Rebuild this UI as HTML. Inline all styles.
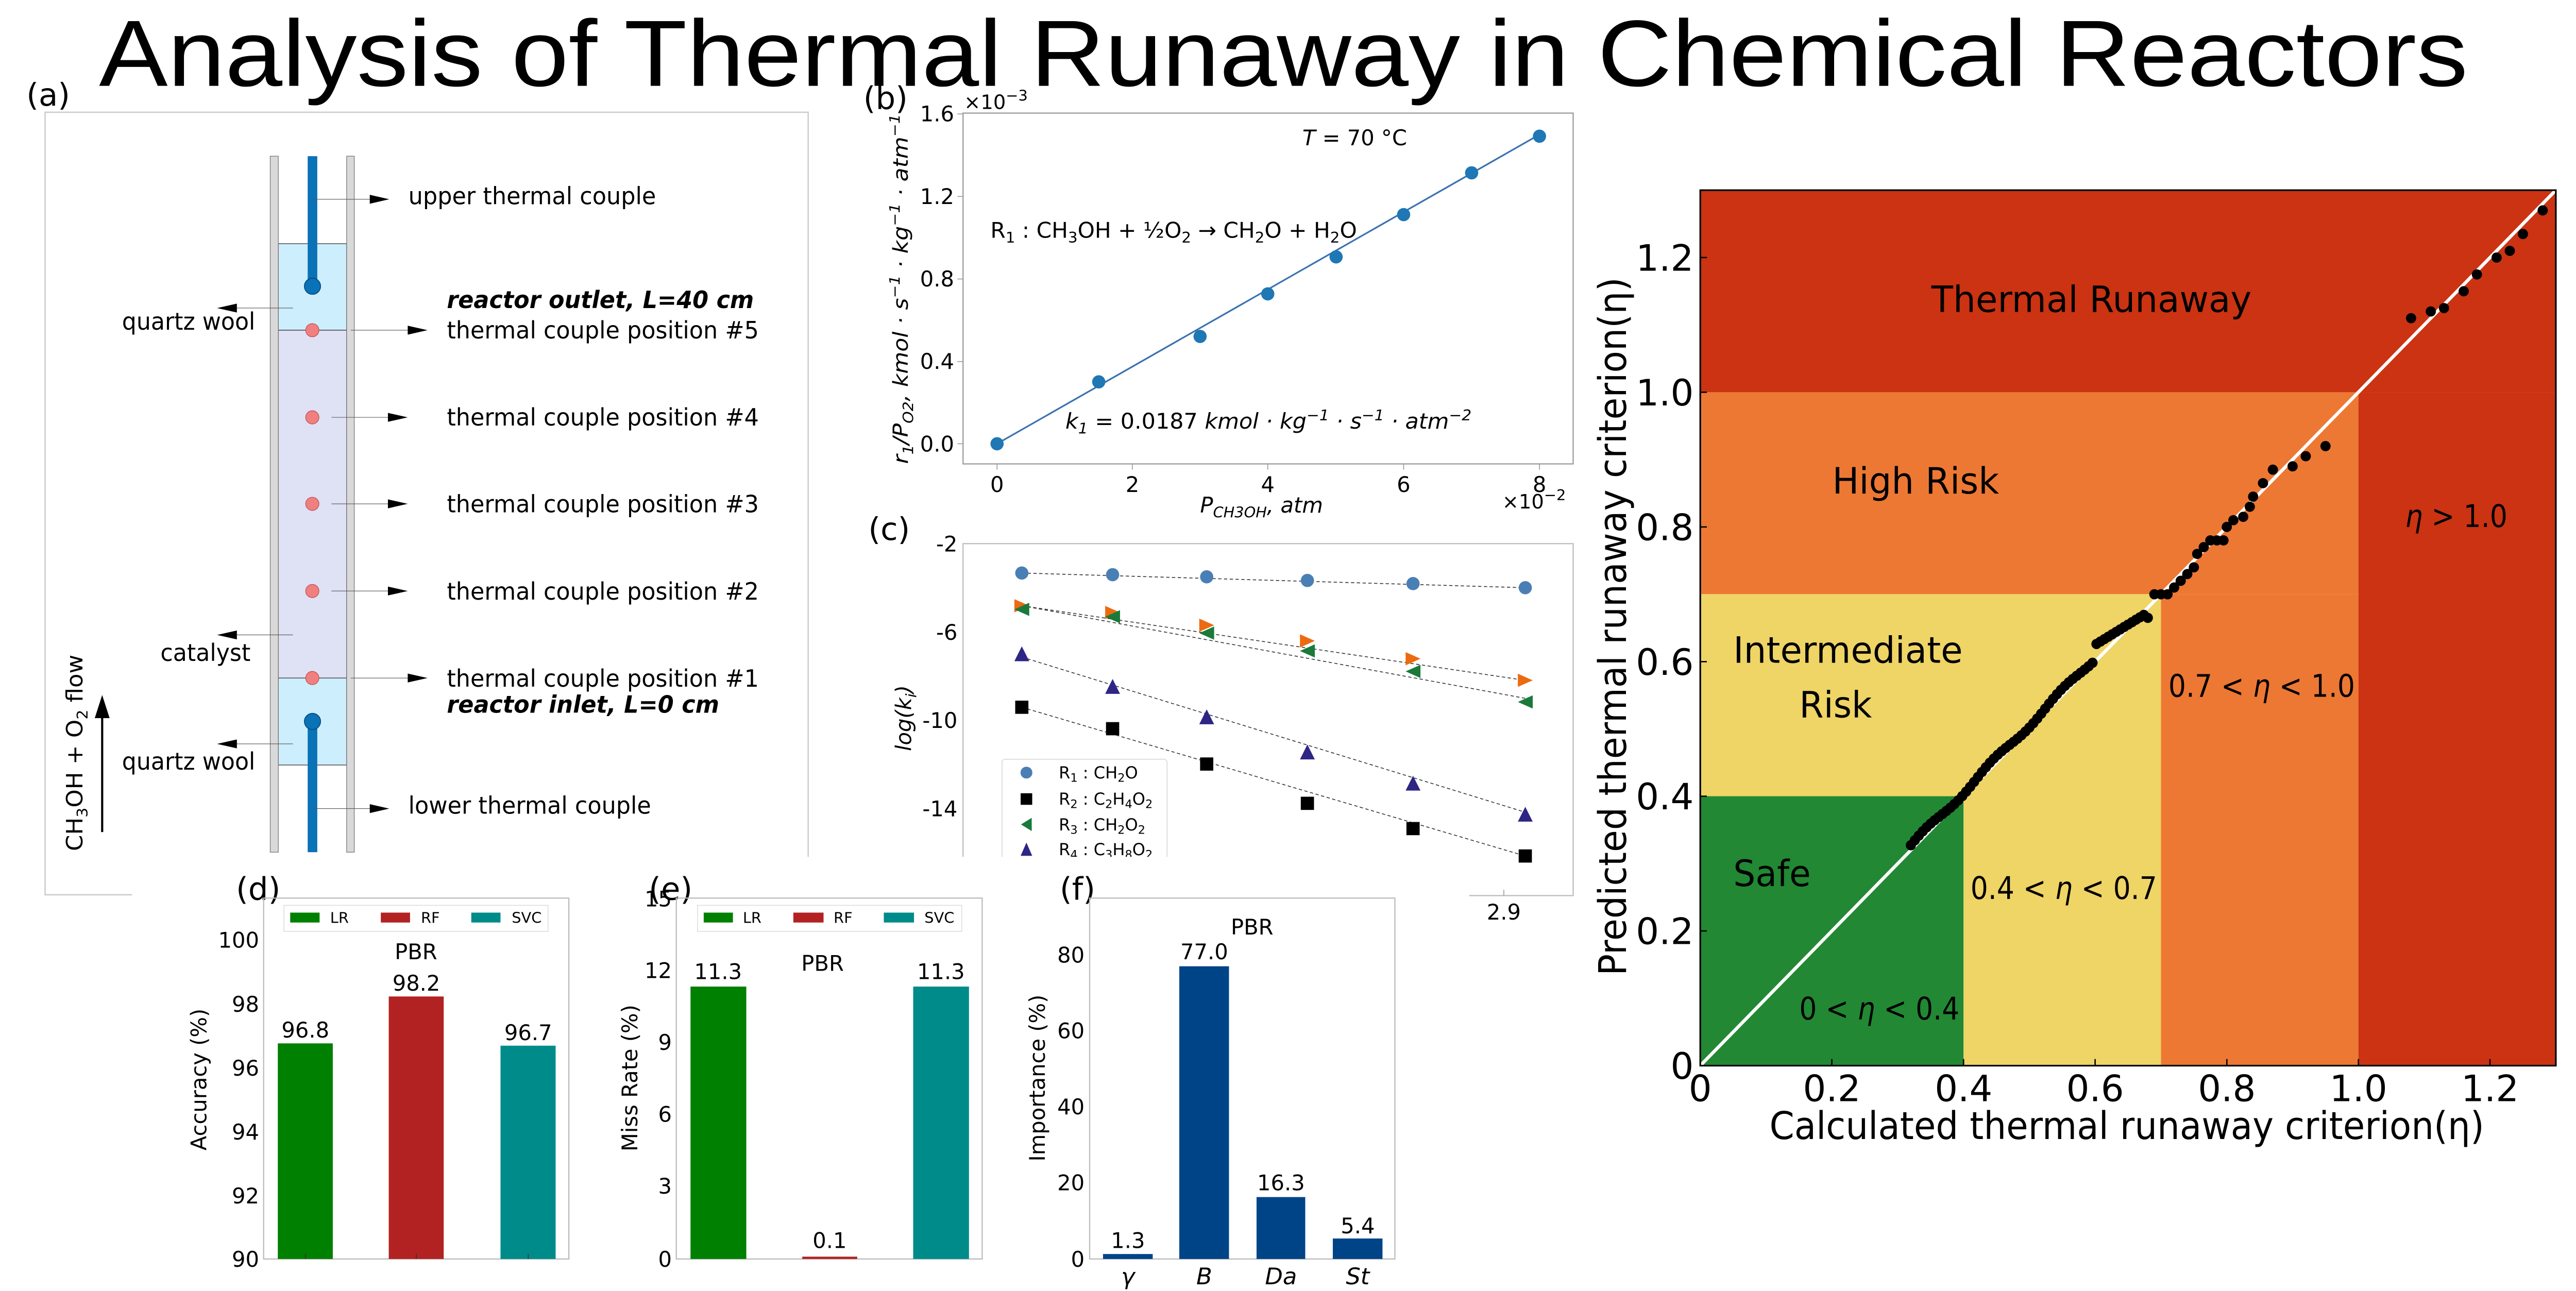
<!DOCTYPE html>
<html><head><meta charset="utf-8"><style>html,body{margin:0;padding:0;background:#fff}svg{display:block}</style></head><body>
<svg xmlns="http://www.w3.org/2000/svg" width="5024" height="2506" viewBox="0 0 1568 782" preserveAspectRatio="none" font-family="DejaVu Sans, Liberation Sans, sans-serif">
<rect width="1568" height="782" fill="#fff"/>
<text x="60" y="52" font-family="Liberation Sans, sans-serif" font-size="57" textLength="1435" lengthAdjust="spacingAndGlyphs">Analysis of Thermal Runaway in Chemical Reactors</text>

<!-- (a) -->
<text x="16" y="64" font-size="19">(a)</text>
<rect x="27.3" y="68" width="462.3" height="474" fill="none" stroke="#ccc" stroke-width="0.8"/>
<rect x="168.6" y="147.6" width="41.4" height="52.4" fill="#cdeefc" stroke="#333" stroke-width="0.4"/>
<rect x="168.6" y="200" width="41.4" height="210.7" fill="#dfe1f5" stroke="#333" stroke-width="0.4"/>
<rect x="168.6" y="410.7" width="41.4" height="52.7" fill="#cdeefc" stroke="#333" stroke-width="0.4"/>
<rect x="163.7" y="94.6" width="4.9" height="421.6" fill="#d9d9d9" stroke="#777" stroke-width="0.4"/>
<rect x="210" y="94.6" width="4.6" height="421.6" fill="#d9d9d9" stroke="#777" stroke-width="0.4"/>
<rect x="186.4" y="94.6" width="5.8" height="78.8" fill="#0a72b6"/>
<circle cx="189.3" cy="173.4" r="4.9" fill="#0a72b6" stroke="#05477a" stroke-width="0.5"/>
<rect x="186.4" y="437" width="5.8" height="79.2" fill="#0a72b6"/>
<circle cx="189.3" cy="437" r="4.9" fill="#0a72b6" stroke="#05477a" stroke-width="0.5"/>
<g fill="#f08080" stroke="#c05050" stroke-width="0.4">
<circle cx="189.2" cy="200" r="4"/><circle cx="189.2" cy="252.8" r="4"/><circle cx="189.2" cy="305.2" r="4"/><circle cx="189.2" cy="358" r="4"/><circle cx="189.2" cy="410.7" r="4"/></g>
<g stroke="#555" stroke-width="0.35">
<line x1="189.2" y1="120.7" x2="225" y2="120.7"/><line x1="212.5" y1="200" x2="248" y2="200"/>
<line x1="200.8" y1="252.8" x2="236" y2="252.8"/><line x1="200.8" y1="305.2" x2="236" y2="305.2"/>
<line x1="200.8" y1="358" x2="236" y2="358"/><line x1="212.5" y1="410.7" x2="248" y2="410.7"/>
<line x1="189.2" y1="489.8" x2="225" y2="489.8"/>
<line x1="177.5" y1="186.6" x2="142" y2="186.6"/><line x1="177.5" y1="384.6" x2="142" y2="384.6"/><line x1="177.5" y1="450.6" x2="142" y2="450.6"/>
</g>
<g fill="#000">
<polygon points="235.8,120.7 224,118 224,123.4"/><polygon points="259,200 247,197.3 247,202.7"/>
<polygon points="247,252.8 235,250.1 235,255.5"/><polygon points="247,305.2 235,302.5 235,307.9"/>
<polygon points="247,358 235,355.3 235,360.7"/><polygon points="259,410.7 247,408 247,413.4"/>
<polygon points="235.8,489.8 224,487.1 224,492.5"/>
<polygon points="131.5,186.6 143.5,183.9 143.5,189.3"/><polygon points="131.5,384.6 143.5,381.9 143.5,387.3"/><polygon points="131.5,450.6 143.5,447.9 143.5,453.3"/>
</g>
<g font-size="14.5">
<text x="247.4" y="123.7" textLength="150" lengthAdjust="spacingAndGlyphs">upper thermal couple</text>
<text x="270.7" y="186.6" font-weight="bold" font-style="italic" textLength="186" lengthAdjust="spacingAndGlyphs">reactor outlet, L=40 cm</text>
<text x="270.7" y="205" textLength="189" lengthAdjust="spacingAndGlyphs">thermal couple position #5</text>
<text x="270.7" y="257.7" textLength="189" lengthAdjust="spacingAndGlyphs">thermal couple position #4</text>
<text x="270.7" y="310.4" textLength="189" lengthAdjust="spacingAndGlyphs">thermal couple position #3</text>
<text x="270.7" y="363.2" textLength="189" lengthAdjust="spacingAndGlyphs">thermal couple position #2</text>
<text x="270.7" y="415.9" textLength="189" lengthAdjust="spacingAndGlyphs">thermal couple position #1</text>
<text x="270.7" y="431.8" font-weight="bold" font-style="italic" textLength="165" lengthAdjust="spacingAndGlyphs">reactor inlet, L=0 cm</text>
<text x="247.4" y="492.9" textLength="147" lengthAdjust="spacingAndGlyphs">lower thermal couple</text>
<text x="73.9" y="199.7" textLength="80.7" lengthAdjust="spacingAndGlyphs">quartz wool</text>
<text x="97.2" y="400.3" textLength="54.6" lengthAdjust="spacingAndGlyphs">catalyst</text>
<text x="73.9" y="466.2" textLength="80.7" lengthAdjust="spacingAndGlyphs">quartz wool</text>
</g>
<text transform="translate(50,515.5) rotate(-90)" font-size="13.5" textLength="119" lengthAdjust="spacingAndGlyphs">CH<tspan font-size="9" dy="3">3</tspan><tspan dy="-3">OH + O</tspan><tspan font-size="9" dy="3">2</tspan><tspan dy="-3"> flow</tspan></text>
<line x1="61.9" y1="504" x2="61.9" y2="430" stroke="#000" stroke-width="1.3"/>
<polygon points="61.9,421 57.4,435 66.4,435" fill="#000"/>

<!-- (b) -->
<text x="523" y="66" font-size="19">(b)</text>
<rect x="583.4" y="68.5" width="369.6" height="212.5" fill="none" stroke="#999" stroke-width="0.7"/>
<g font-size="13" text-anchor="end">
<text x="578" y="73.5">1.6</text><text x="578" y="123.5">1.2</text><text x="578" y="173.5">0.8</text><text x="578" y="223.5">0.4</text><text x="578" y="273.5">0.0</text></g>
<g stroke="#999" stroke-width="0.5"><line x1="580" y1="69" x2="583.4" y2="69"/><line x1="580" y1="119" x2="583.4" y2="119"/><line x1="580" y1="169" x2="583.4" y2="169"/><line x1="580" y1="219" x2="583.4" y2="219"/><line x1="580" y1="268.8" x2="583.4" y2="268.8"/>
<line x1="604" y1="281" x2="604" y2="284.5"/><line x1="686" y1="281" x2="686" y2="284.5"/><line x1="768" y1="281" x2="768" y2="284.5"/><line x1="850.3" y1="281" x2="850.3" y2="284.5"/><line x1="932.6" y1="281" x2="932.6" y2="284.5"/></g>
<g font-size="13" text-anchor="middle"><text x="604" y="298">0</text><text x="686" y="298">2</text><text x="768" y="298">4</text><text x="850.3" y="298">6</text><text x="932.6" y="298">8</text></g>
<text x="584" y="66" font-size="12">×10<tspan font-size="9" dy="-5">−3</tspan></text>
<text x="910" y="308" font-size="12">×10<tspan font-size="9" dy="-5">−2</tspan></text>
<text x="727" y="310.5" font-size="13" font-style="italic">P<tspan font-size="9" dy="3">CH3OH</tspan><tspan dy="-3">,  atm</tspan></text>
<text transform="translate(550,281) rotate(-90)" font-size="12.5" font-style="italic" textLength="212" lengthAdjust="spacingAndGlyphs">r<tspan font-size="8.5" dy="3">1</tspan><tspan dy="-3">/P</tspan><tspan font-size="8.5" dy="3">O2</tspan><tspan dy="-3">,  kmol · s</tspan><tspan font-size="8.5" dy="-5">−1</tspan><tspan dy="5"> · kg</tspan><tspan font-size="8.5" dy="-5">−1</tspan><tspan dy="5"> · atm</tspan><tspan font-size="8.5" dy="-5">−1</tspan></text>
<line x1="604" y1="268.8" x2="932.6" y2="81.5" stroke="#3a72b0" stroke-width="1"/>
<g fill="#1f77b4"><circle cx="604" cy="268.8" r="4"/><circle cx="665.6" cy="231.3" r="4"/><circle cx="727" cy="203.8" r="4"/><circle cx="768" cy="178" r="4"/><circle cx="809.4" cy="155.6" r="4"/><circle cx="850.3" cy="130" r="4"/><circle cx="891.5" cy="104.7" r="4"/><circle cx="932.6" cy="82.5" r="4"/></g>
<text x="789" y="88" font-size="13"><tspan font-style="italic">T</tspan> = 70  °C</text>
<text x="600" y="144" font-size="13" textLength="222" lengthAdjust="spacingAndGlyphs">R<tspan font-size="9" dy="3">1</tspan><tspan dy="-3"> :  CH</tspan><tspan font-size="9" dy="3">3</tspan><tspan dy="-3">OH + ½O</tspan><tspan font-size="9" dy="3">2</tspan><tspan dy="-3"> → CH</tspan><tspan font-size="9" dy="3">2</tspan><tspan dy="-3">O + H</tspan><tspan font-size="9" dy="3">2</tspan><tspan dy="-3">O</tspan></text>
<text x="645.4" y="259.6" font-size="13" font-style="italic" textLength="246" lengthAdjust="spacingAndGlyphs">k<tspan font-size="9" dy="3">1</tspan><tspan dy="-3" font-style="normal"> = 0.0187 </tspan>kmol · kg<tspan font-size="9" dy="-5">−1</tspan><tspan dy="5"> · s</tspan><tspan font-size="9" dy="-5">−1</tspan><tspan dy="5"> · atm</tspan><tspan font-size="9" dy="-5">−2</tspan></text>

<!-- (c) -->
<text x="526" y="327" font-size="19">(c)</text>
<rect x="583.4" y="329.3" width="369.6" height="213.2" fill="none" stroke="#bbb" stroke-width="0.7"/>
<g font-size="13" text-anchor="end"><text x="580" y="334">-2</text><text x="580" y="387.5">-6</text><text x="580" y="441">-10</text><text x="580" y="494.5">-14</text></g>
<text transform="translate(552,435) rotate(-90)" font-size="13" font-style="italic" text-anchor="middle">log(k<tspan font-size="9" dy="3">i</tspan><tspan dy="-3">)</tspan></text>
<g stroke="#333" stroke-width="0.5" stroke-dasharray="2,1.5" fill="none">
<line x1="619" y1="347.1" x2="924" y2="356"/>
<line x1="619" y1="366.9" x2="924" y2="412.1"/>
<line x1="619" y1="366.9" x2="924" y2="423"/>
<line x1="619" y1="398" x2="924" y2="492"/>
<line x1="619" y1="428.4" x2="924" y2="518.5"/></g>
<g fill="#4a7fb5"><circle cx="619" cy="347.1" r="4"/><circle cx="674" cy="348.1" r="4"/><circle cx="731" cy="349.4" r="4"/><circle cx="792" cy="351.6" r="4"/><circle cx="856" cy="353.5" r="4"/><circle cx="924" cy="356" r="4"/></g>
<g fill="#ec6a10"><polygon points="614.5,362.9 614.5,370.9 623.5,366.9"/><polygon points="669.5,367 669.5,375 678.5,371"/><polygon points="726.5,374.7 726.5,382.7 735.5,378.7"/><polygon points="787.5,384.2 787.5,392.2 796.5,388.2"/><polygon points="851.5,395 851.5,403 860.5,399"/><polygon points="919.5,408.1 919.5,416.1 928.5,412.1"/></g>
<g fill="#1a7a3a"><polygon points="623.5,365.1 623.5,373.1 614.5,369.1"/><polygon points="678.5,369.6 678.5,377.6 669.5,373.6"/><polygon points="735.5,379.5 735.5,387.5 726.5,383.5"/><polygon points="796.5,390.3 796.5,398.3 787.5,394.3"/><polygon points="860.5,402.7 860.5,410.7 851.5,406.7"/><polygon points="928.5,421.2 928.5,429.2 919.5,425.2"/></g>
<g fill="#2e2585"><polygon points="619,391.5 614.5,400.5 623.5,400.5"/><polygon points="674,411.3 669.5,420.3 678.5,420.3"/><polygon points="731,429.7 726.5,438.7 735.5,438.7"/><polygon points="792,451 787.5,460 796.5,460"/><polygon points="856,469.9 851.5,478.9 860.5,478.9"/><polygon points="924,488.7 919.5,497.7 928.5,497.7"/></g>
<g fill="#000"><rect x="615" y="424.4" width="8" height="8"/><rect x="670" y="437.4" width="8" height="8"/><rect x="727" y="458.8" width="8" height="8"/><rect x="788" y="482.6" width="8" height="8"/><rect x="852" y="497.9" width="8" height="8"/><rect x="920" y="514.5" width="8" height="8"/></g>
<rect x="607" y="459.9" width="100" height="70" rx="2" fill="#fff" stroke="#ddd" stroke-width="0.6"/>
<circle cx="621.8" cy="468" r="3.6" fill="#4a7fb5"/>
<rect x="618.3" y="480.5" width="7" height="7" fill="#000"/>
<polygon points="625,495.4 625,503.4 618.5,499.4" fill="#1a7a3a"/>
<polygon points="621.8,510.4 618.3,518.4 625.3,518.4" fill="#2e2585"/>
<g font-size="10"><text x="641.4" y="471.5">R<tspan font-size="7" dy="2">1</tspan><tspan dy="-2"> :  CH</tspan><tspan font-size="7" dy="2">2</tspan><tspan dy="-2">O</tspan></text>
<text x="641.4" y="487.5">R<tspan font-size="7" dy="2">2</tspan><tspan dy="-2"> :  C</tspan><tspan font-size="7" dy="2">2</tspan><tspan dy="-2">H</tspan><tspan font-size="7" dy="2">4</tspan><tspan dy="-2">O</tspan><tspan font-size="7" dy="2">2</tspan></text>
<text x="641.4" y="503">R<tspan font-size="7" dy="2">3</tspan><tspan dy="-2"> :  CH</tspan><tspan font-size="7" dy="2">2</tspan><tspan dy="-2">O</tspan><tspan font-size="7" dy="2">2</tspan></text>
<text x="641.4" y="518">R<tspan font-size="7" dy="2">4</tspan><tspan dy="-2"> :  C</tspan><tspan font-size="7" dy="2">3</tspan><tspan dy="-2">H</tspan><tspan font-size="7" dy="2">8</tspan><tspan dy="-2">O</tspan><tspan font-size="7" dy="2">2</tspan></text></g>

<!-- cover for bottom panels -->
<rect x="80" y="519" width="810" height="263" fill="#fff"/>
<line x1="911" y1="542.5" x2="911" y2="539" stroke="#999" stroke-width="0.5"/>
<text x="911" y="557" font-size="13" text-anchor="middle">2.9</text>

<!-- (d) -->
<text x="143" y="545" font-size="19">(d)</text>
<rect x="159.7" y="544" width="184.9" height="218.6" fill="none" stroke="#bbb" stroke-width="0.7"/>
<rect x="168.3" y="632" width="33.3" height="130.6" fill="#008000"/>
<rect x="235.5" y="603.6" width="33.3" height="159" fill="#b22222"/>
<rect x="303.2" y="633.4" width="33.4" height="129.2" fill="#008b8b"/>
<g stroke="#333" stroke-width="0.5"><line x1="185" y1="762.6" x2="185" y2="759.5"/><line x1="252.2" y1="762.6" x2="252.2" y2="759.5"/><line x1="320" y1="762.6" x2="320" y2="759.5"/></g>
<g font-size="13" text-anchor="end"><text x="157" y="574">100</text><text x="157" y="612.9">98</text><text x="157" y="651.6">96</text><text x="157" y="690.3">94</text><text x="157" y="729">92</text><text x="157" y="767.3">90</text></g>
<g font-size="13" text-anchor="middle"><text x="185" y="628.5">96.8</text><text x="252.2" y="600">98.2</text><text x="320" y="630">96.7</text><text x="252" y="581">PBR</text></g>
<text transform="translate(125,653.9) rotate(-90)" font-size="13" text-anchor="middle">Accuracy (%)</text>
<rect x="172" y="548.4" width="160" height="15.8" fill="#fff" stroke="#ddd" stroke-width="0.5"/>
<rect x="175.8" y="552.8" width="17.8" height="6" fill="#008000"/><rect x="230.7" y="552.8" width="17.7" height="6" fill="#b22222"/><rect x="285.5" y="552.8" width="17.7" height="6" fill="#008b8b"/>
<g font-size="9"><text x="200" y="559">LR</text><text x="255" y="559">RF</text><text x="310" y="559">SVC</text></g>

<!-- (e) -->
<text x="393" y="545" font-size="19">(e)</text>
<rect x="409.7" y="544" width="185.3" height="218.6" fill="none" stroke="#bbb" stroke-width="0.7"/>
<rect x="418.3" y="597.6" width="33.8" height="165" fill="#008000"/>
<rect x="486" y="761.2" width="33.3" height="1.4" fill="#b22222"/>
<rect x="553.2" y="597.6" width="33.8" height="165" fill="#008b8b"/>
<g font-size="13" text-anchor="end"><text x="407" y="549">15</text><text x="407" y="592.5">12</text><text x="407" y="636">9</text><text x="407" y="679.5">6</text><text x="407" y="723">3</text><text x="407" y="767.3">0</text></g>
<g font-size="13" text-anchor="middle"><text x="435" y="593">11.3</text><text x="570" y="593">11.3</text><text x="502.6" y="756">0.1</text><text x="498.3" y="588">PBR</text></g>
<text transform="translate(386,653) rotate(-90)" font-size="13" text-anchor="middle">Miss Rate (%)</text>
<rect x="422.6" y="548.4" width="160" height="15.8" fill="#fff" stroke="#ddd" stroke-width="0.5"/>
<rect x="426.3" y="552.8" width="17.7" height="6" fill="#008000"/><rect x="480.6" y="552.8" width="18.3" height="6" fill="#b22222"/><rect x="535.4" y="552.8" width="18.3" height="6" fill="#008b8b"/>
<g font-size="9"><text x="450" y="559">LR</text><text x="505" y="559">RF</text><text x="560" y="559">SVC</text></g>

<!-- (f) -->
<text x="642" y="545" font-size="19">(f)</text>
<rect x="660.1" y="544" width="184.9" height="218.6" fill="none" stroke="#bbb" stroke-width="0.7"/>
<g fill="#004488"><rect x="668.2" y="759.6" width="30.1" height="3"/><rect x="714.4" y="585.3" width="30.1" height="177.3"/><rect x="761.2" y="725.1" width="29.5" height="37.5"/><rect x="807.4" y="750.2" width="30.1" height="12.4"/></g>
<g font-size="13" text-anchor="end"><text x="657" y="583">80</text><text x="657" y="629">60</text><text x="657" y="675">40</text><text x="657" y="721">20</text><text x="657" y="767.3">0</text></g>
<g font-size="13" text-anchor="middle"><text x="683.3" y="756">1.3</text><text x="729.5" y="581">77.0</text><text x="776" y="721">16.3</text><text x="822.5" y="747">5.4</text><text x="758.5" y="566">PBR</text></g>
<g font-size="14" font-style="italic" text-anchor="middle"><text x="683.3" y="778">γ</text><text x="729.5" y="778">B</text><text x="776" y="778">Da</text><text x="822.5" y="778">St</text></g>
<text transform="translate(633,653) rotate(-90)" font-size="13" text-anchor="middle">Importance (%)</text>

<!-- right plot: x(v)=1030+398.7v, y(v)=645.5-407.9v -->
<rect x="1030" y="115.2" width="518.3" height="122.4" fill="#cb3312"/>
<rect x="1030" y="237.6" width="398.7" height="122.3" fill="#ed7834"/>
<rect x="1030" y="359.9" width="279.1" height="122.4" fill="#efd466"/>
<rect x="1030" y="482.3" width="159.5" height="163.2" fill="#228833"/>
<rect x="1189.5" y="482.3" width="119.6" height="163.2" fill="#efd466"/>
<rect x="1309.1" y="359.9" width="119.6" height="285.6" fill="#ed7834"/>
<rect x="1428.7" y="237.6" width="119.6" height="407.9" fill="#cb3312"/>
<line x1="1030" y1="645.5" x2="1548.3" y2="115.2" stroke="#fff" stroke-width="2"/>
<g id="dots" fill="#000"></g>
<rect x="1030" y="115.2" width="518.3" height="530.3" fill="none" stroke="#000" stroke-width="1"/>
<g stroke="#000" stroke-width="0.8">
<line x1="1030" y1="563.9" x2="1034" y2="563.9"/><line x1="1030" y1="482.3" x2="1034" y2="482.3"/><line x1="1030" y1="400.8" x2="1034" y2="400.8"/><line x1="1030" y1="319.2" x2="1034" y2="319.2"/><line x1="1030" y1="237.6" x2="1034" y2="237.6"/><line x1="1030" y1="156" x2="1034" y2="156"/>
<line x1="1109.7" y1="645.5" x2="1109.7" y2="641.5"/><line x1="1189.5" y1="645.5" x2="1189.5" y2="641.5"/><line x1="1269.2" y1="645.5" x2="1269.2" y2="641.5"/><line x1="1349" y1="645.5" x2="1349" y2="641.5"/><line x1="1428.7" y1="645.5" x2="1428.7" y2="641.5"/><line x1="1508.4" y1="645.5" x2="1508.4" y2="641.5"/></g>
<g font-size="22" text-anchor="end"><text x="1026" y="653.5">0</text><text x="1026" y="571.9">0.2</text><text x="1026" y="490.3">0.4</text><text x="1026" y="408.8">0.6</text><text x="1026" y="327.2">0.8</text><text x="1026" y="245.6">1.0</text><text x="1026" y="164">1.2</text></g>
<g font-size="22" text-anchor="middle"><text x="1030" y="667">0</text><text x="1109.7" y="667">0.2</text><text x="1189.5" y="667">0.4</text><text x="1269.2" y="667">0.6</text><text x="1349" y="667">0.8</text><text x="1428.7" y="667">1.0</text><text x="1508.4" y="667">1.2</text></g>
<text x="1071.9" y="690" font-size="23" textLength="433" lengthAdjust="spacingAndGlyphs">Calculated thermal runaway criterion(η)</text>
<text transform="translate(985,591) rotate(-90)" font-size="23" textLength="423" lengthAdjust="spacingAndGlyphs">Predicted thermal runaway criterion(η)</text>
<g font-size="22">
<text x="1170" y="189" textLength="194" lengthAdjust="spacingAndGlyphs">Thermal Runaway</text>
<text x="1110" y="299" textLength="101" lengthAdjust="spacingAndGlyphs">High Risk</text>
<text x="1050" y="401.5" textLength="139" lengthAdjust="spacingAndGlyphs">Intermediate</text>
<text x="1090" y="434.5" textLength="44" lengthAdjust="spacingAndGlyphs">Risk</text>
<text x="1050" y="536.7" textLength="47" lengthAdjust="spacingAndGlyphs">Safe</text></g>
<g font-size="19">
<text x="1090" y="617.5" textLength="97" lengthAdjust="spacingAndGlyphs">0 &lt; <tspan font-style="italic">η</tspan> &lt; 0.4</text>
<text x="1193.7" y="544.5" textLength="113" lengthAdjust="spacingAndGlyphs">0.4 &lt; <tspan font-style="italic">η</tspan> &lt; 0.7</text>
<text x="1313.6" y="422.1" textLength="113" lengthAdjust="spacingAndGlyphs">0.7 &lt; <tspan font-style="italic">η</tspan> &lt; 1.0</text>
<text x="1457" y="319.2" textLength="62" lengthAdjust="spacingAndGlyphs"><tspan font-style="italic">η</tspan> &gt; 1.0</text></g>
</svg>
<script>
(function(){
var pts=[[0.68,0.665],[0.69,0.70],[0.70,0.70],[0.71,0.70],[0.72,0.71],[0.73,0.72],[0.74,0.73],[0.75,0.74],[0.755,0.76],[0.765,0.77],[0.775,0.78],[0.785,0.78],[0.795,0.78],[0.80,0.80],[0.81,0.81],[0.825,0.815],[0.835,0.83],[0.84,0.845],[0.855,0.865],[0.87,0.885],[0.90,0.89],[0.92,0.905],[0.95,0.92],[1.08,1.11],[1.11,1.12],[1.13,1.125],[1.16,1.15],[1.18,1.175],[1.21,1.2],[1.23,1.21],[1.25,1.235],[1.28,1.27]];
for(var x=0.32;x<=0.675;x+=0.006){var off;if(x<0.6)off=0.006+0.004*Math.sin(x*60);else off=0.025-(x-0.6)*0.4;pts.push([x,x+off]);}
var g=document.getElementById('dots'),ns='http://www.w3.org/2000/svg';
pts.forEach(function(p){var c=document.createElementNS(ns,'circle');c.setAttribute('cx',1030+p[0]*398.7);c.setAttribute('cy',645.5-p[1]*407.9);c.setAttribute('r',3.1);g.appendChild(c);});
})();
</script>
</body></html>
